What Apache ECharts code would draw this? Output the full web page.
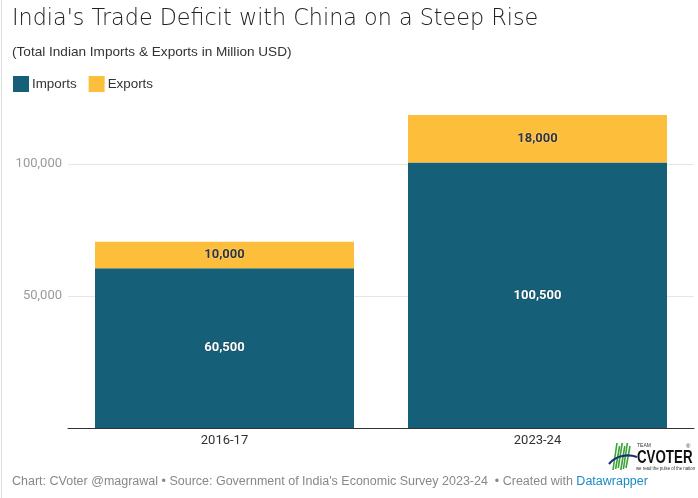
<!DOCTYPE html>
<html>
<head>
<meta charset="utf-8">
<script src="https://cdn.jsdelivr.net/npm/echarts@6/dist/echarts.min.js"></script>
<style>
html,body{margin:0;padding:0;background:#fff;}
#chart{width:698px;height:498px;}
</style>
</head>
<body>
<div id="chart"></div>
<script>
const categories = ['2016-17', '2023-24'];
const imports = [60500, 100500];
const exportsVals = [10000, 18000];
const yTicks = [50000, 100000];

const chart = echarts.init(document.getElementById('chart'), null, {renderer: 'canvas'});
const FONT = 'Roboto, "Helvetica Neue", Arial, sans-serif';
const HFONT = '"Liberation Sans", Arial, Helvetica, sans-serif';
const fmt = v => v.toLocaleString('en-US');

const stripes = [];
for (let i = 0; i < 6; i++) {
  stripes.push({
    type: 'line',
    shape: {x1: 617 + i * 2.6, y1: 443 + (i % 2) * 3, x2: 613 + i * 2.6, y2: 470 - (i % 3)},
    style: {stroke: '#3aa335', lineWidth: 1.6}
  });
}

chart.setOption({
  animation: false,
  textStyle: {fontFamily: FONT},
  title: [
    {text: "India's Trade Deficit with China on a Steep Rise", left: 12, top: 8, padding: 0,
     textStyle: {fontFamily: '"DejaVu Sans", sans-serif', fontWeight: 200, fontSize: 22.3, color: '#222'}},
    {text: '(Total Indian Imports & Exports in Million USD)', left: 12, top: 45, padding: 0,
     textStyle: {fontFamily: HFONT, fontWeight: 400, fontSize: 13.6, color: '#333'}}
  ],
  legend: {
    left: 13, top: 76, padding: 0, itemWidth: 16, itemHeight: 16, itemGap: 12, icon: 'rect',
    textStyle: {fontFamily: HFONT, fontSize: 13.4, color: '#333', padding: [0, 0, 0, -2]},
    data: ['Imports', 'Exports']
  },
  grid: {left: 68, right: 4, top: 111, bottom: 70},
  xAxis: {
    type: 'category', data: categories,
    axisLine: {lineStyle: {color: '#333', width: 1}},
    axisTick: {show: false},
    axisLabel: {fontFamily: FONT, fontSize: 13, color: '#333', margin: 6}
  },
  yAxis: {
    type: 'value', min: 0, max: 120000, interval: 50000,
    axisLine: {show: false}, axisTick: {show: false},
    axisLabel: {fontFamily: FONT, fontSize: 13, color: '#9a9a9a', margin: 6,
      showMinLabel: false, showMaxLabel: false,
      formatter: v => yTicks.includes(v) ? fmt(v) : ''},
    splitLine: {show: true, showMinLine: false, showMaxLine: false,
      lineStyle: {color: '#e6e6e6', width: 1}}
  },
  series: [
    {name: 'Imports', type: 'bar', stack: 't', data: imports, barWidth: 259,
     itemStyle: {color: '#155f78'},
     label: {show: true, position: 'inside', formatter: p => fmt(p.value),
       fontFamily: FONT, fontWeight: 'bold', fontSize: 13, color: '#fff',
       textBorderColor: 'rgba(0,0,0,0.25)', textBorderWidth: 1}},
    {name: 'Exports', type: 'bar', stack: 't', data: exportsVals, barWidth: 259,
     itemStyle: {color: '#fdbe3b'},
     label: {show: true, position: 'inside', formatter: p => fmt(p.value),
       fontFamily: FONT, fontWeight: 'bold', fontSize: 13, color: '#333',
       textBorderColor: 'rgba(255,255,255,0.4)', textBorderWidth: 1}}
  ],
  graphic: [
    {type: 'rect', shape: {x: 1, y: 0, width: 1, height: 498}, style: {fill: '#dedede'}},
    {type: 'group', children: stripes.concat([
      {type: 'bezierCurve', shape: {x1: 609, y1: 464, x2: 637, y2: 457, cpx1: 616, cpy1: 455, cpx2: 628, cpy2: 454},
       style: {stroke: '#1d2f7a', lineWidth: 2.2, fill: null}},
      {type: 'text', x: 637, y: 443, style: {text: 'TEAM', fontSize: 5, fill: '#333', fontFamily: HFONT}},
      {type: 'text', x: 637, y: 449, scaleX: 0.74,
       style: {text: 'CVOTER', fontSize: 18, fontWeight: 'bold', fill: '#111', fontFamily: HFONT}},
      {type: 'text', x: 686, y: 443, style: {text: '®', fontSize: 6, fill: '#333', fontFamily: HFONT}},
      {type: 'text', x: 636, y: 466, scaleX: 0.9,
       style: {text: 'we read the pulse of the nation', fontSize: 4.8, fill: '#333', fontFamily: HFONT}}
    ])},
    {type: 'text', left: 12, top: 475, style: {
      rich: {
        a: {fontFamily: HFONT, fontSize: 12.5, fill: '#888'},
        b: {fontFamily: HFONT, fontSize: 12.5, fill: '#1a8ac7'}
      },
      text: "{a|Chart: CVoter @magrawal • Source: Government of India's Economic Survey 2023-24  • Created with }{b|Datawrapper}"
    }}
  ]
});
</script>
</body>
</html>
